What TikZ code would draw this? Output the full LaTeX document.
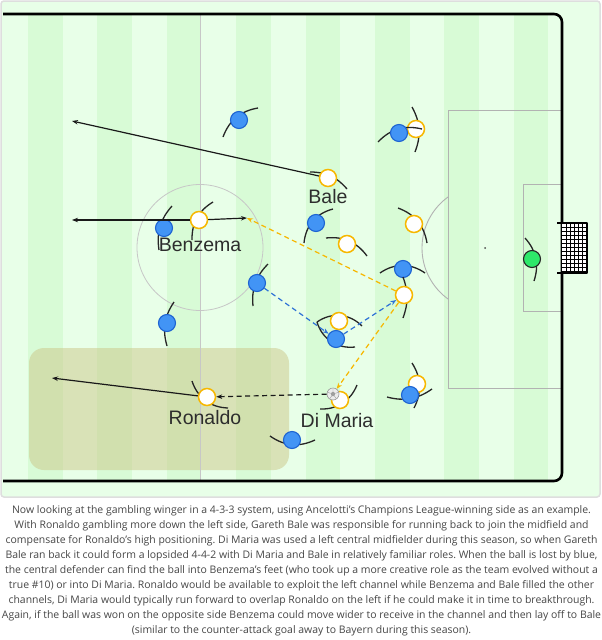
\documentclass[tikz,border=0pt]{standalone}
\usepackage{fontspec}
\setmainfont{Open Sans}
\newfontfamily\labelfont{Liberation Sans}
\usetikzlibrary{arrows.meta}
\frenchspacing
\definecolor{lightstripe}{RGB}{232,255,232}
\definecolor{darkstripe}{RGB}{216,251,214}
\definecolor{framegray}{RGB}{222,222,222}
\definecolor{plblue}{RGB}{66,148,245}
\definecolor{plbluedark}{RGB}{30,100,210}
\definecolor{plyellow}{RGB}{247,183,0}
\definecolor{passblue}{RGB}{46,114,214}
\definecolor{kgreen}{RGB}{46,232,106}
\definecolor{olivebox}{RGB}{204,198,136}
\definecolor{textgray}{RGB}{70,70,70}
\definecolor{lblgray}{RGB}{45,45,45}
\tikzset{
  bluepl/.style={circle, minimum size=17pt, inner sep=0pt, fill=plblue, draw=plbluedark, line width=1.1pt},
  whitepl/.style={circle, minimum size=17pt, inner sep=0pt, fill=white, draw=plyellow, line width=1.5pt},
  keeperpl/.style={circle, minimum size=17pt, inner sep=0pt, fill=kgreen, draw=black!85, line width=1.1pt},
  ballnode/.style={circle, minimum size=12pt, inner sep=0pt, fill=gray!15, draw=gray!80, line width=0.6pt},
  arm/.style={line width=1.3pt, black!85},
  mv/.style={-{Stealth[length=6pt,width=4.5pt]}, line width=1.2pt, black!90},
  mvdash/.style={mv, dash pattern=on 5pt off 3.5pt},
  passY/.style={-{Stealth[length=6pt,width=4.5pt]}, line width=1.2pt, plyellow, dash pattern=on 5pt off 3.5pt},
  passB/.style={-{Stealth[length=6pt,width=4.5pt]}, line width=1.2pt, passblue, dash pattern=on 5pt off 3.5pt},
  pitchline/.style={line width=2.6pt, black},
  midline/.style={line width=0.8pt, black!22},
  boxline/.style={line width=0.9pt, black!30},
  lbl/.style={font=\labelfont\fontsize{19.5}{20}\selectfont, text=lblgray, inner sep=0pt},
  bodytext/.style={font=\fontsize{10.45}{12}\selectfont, text=textgray, inner sep=0pt}
}
\begin{document}
\begin{tikzpicture}[x=1pt,y=-1pt]
\useasboundingbox (0,0) rectangle (602,640);
\fill[white] (0,0) rectangle (602,640);
% frame and pitch
\draw[framegray, fill=lightstripe, line width=1.5pt, rounded corners=3pt] (1,1) rectangle (600,497);
\foreach \x in {28,97.4,166.8,236.2,305.6,375,444.4,513.8}
  \fill[darkstripe] (\x,14) rectangle ++(34.5,467);
% highlighted zone
\fill[olivebox, opacity=0.5, rounded corners=15pt] (29,348) rectangle (289,470);
% markings
\draw[midline] (200,14) -- (200,481);
\draw[midline] (200,247.5) circle[radius=63];
\draw[boxline] (562,110) -- (448,110) -- (448,388) -- (562,388);
\draw[boxline] (562,184) -- (523,184) -- (523,311) -- (562,311);
\begin{scope}
  \clip (400,100) rectangle (448,400);
  \draw[boxline] (485,248) circle[radius=63];
\end{scope}
\fill[black!70] (485,248) circle[radius=1];
\draw[pitchline, rounded corners=8pt] (3,14) -- (562,14) -- (562,481) -- (3,481);
% goal
\fill[white] (562,223) rectangle (587,273);
\foreach \gx in {566,570,...,586} \draw[line width=0.4pt] (\gx,223) -- (\gx,273);
\foreach \gy in {227,231,...,271} \draw[line width=0.4pt] (562,\gy) -- (587,\gy);
\draw[line width=2.6pt, line join=round] (557,223) -- (587,223) -- (587,273) -- (557,273);

% players
\draw[arm] (223,137) to[bend left=30] (258,108);
\node[bluepl] (bA) at (239,120) {};
\draw[arm] (172,206) to[bend right=25] (159,250);
\node[bluepl] (bB) at (164,228) {};
\draw[arm] (333,209) to[bend right=35] (304,243);
\node[bluepl] (bC) at (316,223) {};
\draw[arm] (412,107) to[bend left=25] (415,152);
\node[whitepl] (wB) at (416,129) {};
\draw[arm] (378,142) to[bend left=30] (422,129);
\node[bluepl] (bD) at (399,133) {};
\draw[arm] (268,264) to[bend right=25] (253,306);
\node[bluepl] (bE) at (257,283) {};
\draw[arm] (174,302) to[bend right=25] (167,346);
\node[bluepl] (bF) at (167,323) {};
\draw[arm] (270,436) to[bend right=30] (315,440);
\node[bluepl] (bG) at (292,440) {};
\draw[arm] (380,273) to[bend left=35] (425,273);
\node[bluepl] (bH) at (403,269) {};
\draw[arm] (403,277) to[bend left=20] (403,318);
\node[whitepl] (cb) at (404,295) {};
\draw[arm] (317,322) to[bend left=40] (362,326);
\node[whitepl] (wD) at (339,321) {};
\draw[arm] (317,322) to[bend right=40] (355,347);
\node[bluepl] (bI) at (336,339) {};
\draw[arm] (412,363) to[bend left=30] (414,408);
\node[whitepl] (wE) at (417,384) {};
\draw[arm] (387,397) to[bend right=25] (432,389);
\node[bluepl] (bJ) at (410,395) {};
\draw[arm] (310,172) to[bend left=25] (347,189);
\node[whitepl] (bale) at (328,178) {};
\draw[arm] (326,238) to[bend left=30] (367,256);
\node[whitepl] (wF) at (347,244) {};
\draw[arm] (398,208) to[bend left=30] (427,243);
\node[whitepl] (wG) at (414,224) {};
\draw[arm] (357,385) to[bend left=35] (320,409);
\node[whitepl] (dimaria) at (340,400) {};
\draw[arm] (192,381) to[bend right=35] (228,408);
\node[whitepl] (ron) at (207,397) {};
\draw[arm] (213,202) to[bend right=30] (192,240);
\node[whitepl] (benz) at (199,220) {};
\draw[arm] (525,238) to[bend left=30] (534,281);
\node[keeperpl] (gk) at (532,259) {};
% ball
\node[ballnode] (ball) at (333,394) {};
\fill[gray!75] (333,391.6) -- (335.3,393.3) -- (334.4,396) -- (331.6,396) -- (330.7,393.3) -- cycle;
\draw[gray!75, line width=0.4pt] (333,391.6) -- (333,388.5) (335.3,393.3) -- (338.2,392.4) (334.4,396) -- (336.2,398.6) (331.6,396) -- (329.8,398.6) (330.7,393.3) -- (327.8,392.4);

% movement and passes
\coordinate (baleT) at (72,121);
\coordinate (benzL) at (72,220);
\coordinate (benzR) at (247,218);
\coordinate (ronT) at (52,378);
\draw[mv] (bale) -- (baleT);
\draw[mv] (benz) -- (benzL);
\draw[mv] (benz) -- (benzR);
\draw[mv] (ron) -- (ronT);
\draw[mvdash] (ball) -- (ron);
\draw[passY] (cb) -- (benzR);
\draw[passY] (cb) -- (ball);
\draw[passB] (bE) -- (bI);
\draw[passB] (bI) -- (cb);

% labels
\node[lbl] (lbenz) at (200,245) {Benzema};
\node[lbl] (lbale) at (328,197) {Bale};
\node[lbl] (lron) at (205,418) {Ronaldo};
\node[lbl] (ldim) at (337,421) {Di Maria};

% caption
\node[bodytext] (t1) at (301.5,511) {Now looking at the gambling winger in a 4-3-3 system, using Ancelotti’s Champions League-winning side as an example.};
\node[bodytext] (t2) at (301.5,526) {With Ronaldo gambling more down the left side, Gareth Bale was responsible for running back to join the midfield and};
\node[bodytext] (t3) at (301.5,541) {compensate for Ronaldo’s high positioning. Di Maria was used a left central midfielder during this season, so when Gareth};
\node[bodytext] (t4) at (301.5,556) {Bale ran back it could form a lopsided 4-4-2 with Di Maria and Bale in relatively familiar roles. When the ball is lost by blue,};
\node[bodytext] (t5) at (301.5,571) {the central defender can find the ball into Benzema’s feet (who took up a more creative role as the team evolved without a};
\node[bodytext] (t6) at (301.5,586) {true \#10) or into Di Maria. Ronaldo would be available to exploit the left channel while Benzema and Bale filled the other};
\node[bodytext] (t7) at (301.5,601) {channels, Di Maria would typically run forward to overlap Ronaldo on the left if he could make it in time to breakthrough.};
\node[bodytext] (t8) at (301.5,616) {Again, if the ball was won on the opposite side Benzema could move wider to receive in the channel and then lay off to Bale};
\node[bodytext] (t9) at (301.5,631) {(similar to the counter-attack goal away to Bayern during this season).};
\end{tikzpicture}
\end{document}
